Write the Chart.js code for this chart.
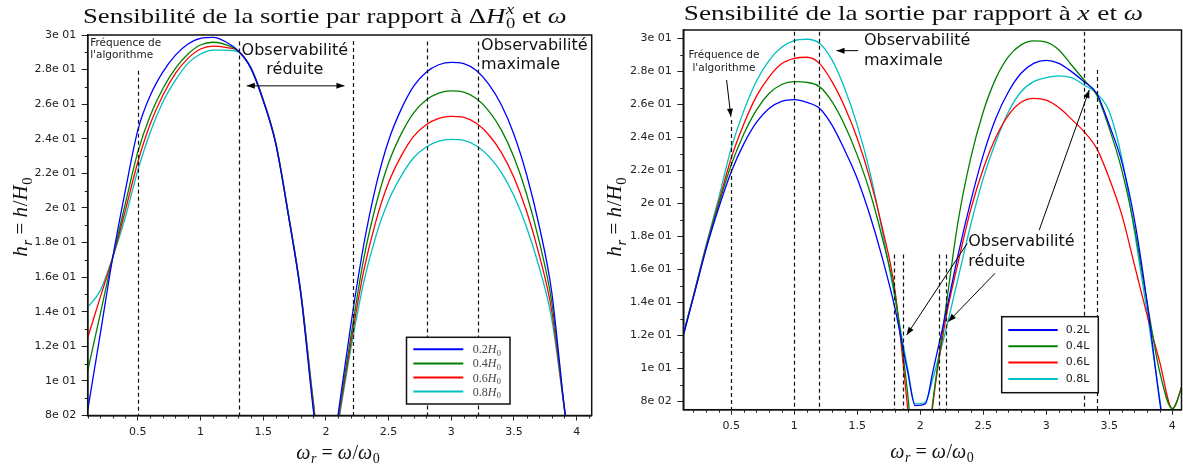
<!DOCTYPE html>
<html><head><meta charset="utf-8">
<script src="https://cdn.jsdelivr.net/npm/chart.js@4.4.1/dist/chart.umd.min.js"></script>
<style>
html,body{margin:0;padding:0;background:#fff;}
#wrap{position:relative;width:1183px;height:468px;overflow:hidden;background:#fff;}
canvas{position:absolute;top:0;}
#c1{left:0;width:596px;height:468px;}
#c2{left:596px;width:587px;height:468px;}
</style></head><body>
<div id="wrap"><canvas id="c1" width="596" height="468"></canvas><canvas id="c2" width="587" height="468"></canvas></div>
<script>
// ---------- tick values / labels ----------
const xTickValues = [0.5, 1, 1.5, 2, 2.5, 3, 3.5, 4];
const xTickLabels = ['0.5', '1', '1.5', '2', '2.5', '3', '3.5', '4'];
const yTickValues = [0.08, 0.10, 0.12, 0.14, 0.16, 0.18, 0.20, 0.22, 0.24, 0.26, 0.28, 0.30];
const yTickLabels = ['8e 02', '1e 01', '1.2e 01', '1.4e 01', '1.6e 01', '1.8e 01', '2e 01', '2.2e 01', '2.4e 01', '2.6e 01', '2.8e 01', '3e 01'];

// ---------- left panel data (ΔH0) ----------
const leftX = [0.1,0.2,0.3,0.4,0.5,0.6,0.7,0.8,0.9,1.0,1.1,1.2,1.3,1.4,1.5,1.6,1.7,1.8,1.9,2.0,
               2.1,2.2,2.3,2.4,2.5,2.6,2.7,2.8,2.9,3.0,3.1,3.2,3.3,3.4,3.5,3.6,3.7,3.8,3.9,4.0,4.1];
const leftH02 = [0.083,0.127,0.1715,0.210,0.245,0.2652,0.2787,0.2884,0.2948,0.2981,0.2986,0.2961,0.2909,0.2810,0.2620,0.2370,0.1960,0.1500,0.0830,0.0300,
                 0.0820,0.1330,0.1780,0.2130,0.2390,0.2570,0.2705,0.2785,0.2828,0.2842,0.2835,0.2795,0.2715,0.2595,0.2425,0.2195,0.1900,0.1520,0.0860,0.0300,-0.0200];
const leftH04 = [0.1058,0.1386,0.1715,0.2024,0.2324,0.2536,0.2691,0.2807,0.2890,0.2942,0.2958,0.2945,0.2908,0.2810,0.2622,0.2372,0.1963,0.1505,0.0850,0.0300,
                 0.0800,0.1260,0.1700,0.2020,0.2260,0.2427,0.2550,0.2624,0.2664,0.2677,0.2670,0.2633,0.2560,0.2450,0.2293,0.2082,0.1811,0.1462,0.0855,0.0300,-0.0200];
const leftH06 = [0.125,0.1483,0.1715,0.1985,0.2266,0.2488,0.2652,0.2778,0.2865,0.2919,0.2936,0.2928,0.2907,0.2812,0.2625,0.2375,0.1966,0.1510,0.0870,0.0300,
                 0.0780,0.1224,0.1630,0.1927,0.2147,0.2300,0.2414,0.2481,0.2518,0.2530,0.2524,0.2490,0.2422,0.2320,0.2176,0.1982,0.1732,0.1410,0.0850,0.0300,-0.0200];
const leftH08 = [0.1425,0.1522,0.1715,0.1946,0.2217,0.2439,0.2613,0.2739,0.2836,0.2890,0.2913,0.2913,0.2903,0.2814,0.2628,0.2380,0.1972,0.1518,0.0880,0.0300,
                 0.0760,0.1190,0.1566,0.1840,0.2043,0.2184,0.2290,0.2352,0.2386,0.2397,0.2391,0.2360,0.2298,0.2204,0.2070,0.1890,0.1660,0.1363,0.0847,0.0300,-0.0200];
const leftCoefs = ['0.2', '0.4', '0.6', '0.8'];

// ---------- right panel data (x) ----------
const rightX = [0.1,0.2,0.3,0.4,0.5,0.6,0.7,0.8,0.9,1.0,1.1,1.2,1.3,1.4,1.5,1.6,1.7,1.8,1.9,1.96,2.04,
                2.1,2.2,2.3,2.4,2.5,2.6,2.7,2.8,2.9,3.0,3.1,3.2,3.3,3.4,3.5,3.6,3.7,3.8,3.9,4.0,4.1];
const rightL02 = [0.114,0.143,0.172,0.197,0.219,0.236,0.249,0.2575,0.2618,0.2628,0.2612,0.2576,0.2474,0.2323,0.2151,0.1929,0.1667,0.1363,0.0980,0.0775,0.0785,
                  0.0980,0.1323,0.1687,0.2010,0.2292,0.2515,0.2676,0.2788,0.2848,0.2866,0.2848,0.2798,0.2737,0.2667,0.2474,0.2250,0.1900,0.1400,0.0800,0.0300,-0.0200];
const rightL04 = [0.115,0.1435,0.1728,0.1990,0.2232,0.2420,0.2565,0.2665,0.2720,0.2737,0.2733,0.2707,0.2616,0.2474,0.2292,0.2070,0.1787,0.1444,0.0850,0.0400,0.0400,
                  0.0800,0.1350,0.1889,0.2272,0.2555,0.2757,0.2889,0.2960,0.2984,0.2976,0.2929,0.2838,0.2747,0.2656,0.2454,0.2200,0.1850,0.1400,0.0980,0.0757,0.0950];
const rightL06 = [0.1145,0.1437,0.1735,0.2005,0.2273,0.2480,0.2648,0.2765,0.2845,0.2878,0.2885,0.2848,0.2737,0.2585,0.2394,0.2151,0.1848,0.1470,0.0760,0.0300,0.0300,
                  0.0780,0.1290,0.1640,0.1960,0.2210,0.2400,0.2535,0.2612,0.2636,0.2625,0.2580,0.2510,0.2434,0.2333,0.2151,0.1929,0.1626,0.1323,0.1040,0.0757,0.0950];
const rightL08 = [0.115,0.144,0.1745,0.2030,0.2333,0.2560,0.2740,0.2865,0.2945,0.2985,0.2994,0.2970,0.2869,0.2697,0.2474,0.2191,0.1828,0.1424,0.1000,0.0785,0.0795,
                  0.0939,0.1222,0.1545,0.1868,0.2151,0.2373,0.2555,0.2676,0.2737,0.2761,0.2772,0.2761,0.2717,0.2666,0.2555,0.2272,0.1828,0.1343,0.0818,0.0300,-0.0200];
const rightLabels = ['0.2L', '0.4L', '0.6L', '0.8L'];

// ---------- annotation values (data units) ----------
const leftDashX   = [0.5, 1.305, 2.22, 2.81, 3.215];
const leftDashTop = [0.2793, 0.2962, 0.2965, 0.2962, 0.2962];
const rightDashX   = [0.5, 1.0, 1.2, 1.795, 1.865, 2.145, 2.205, 3.30, 3.40];
const rightDashTop = [0.2505, 0.304, 0.304, 0.169, 0.169, 0.169, 0.169, 0.304, 0.2808];

const leftNotes = [
  {t:'Fréquence de', x:0.12, y:0.2955, size:10.5, align:'left'},
  {t:"l'algorithme", x:0.12, y:0.2882, size:10.5, align:'left'},
  {t:'Observabilité', x:1.752, y:0.2909, size:16, align:'center'},
  {t:'réduite', x:1.752, y:0.2797, size:16, align:'center'},
  {t:'Observabilité', x:3.238, y:0.2938, size:16, align:'left'},
  {t:'maximale', x:3.238, y:0.2826, size:16, align:'left'}
];
const rightNotes = [
  {t:'Fréquence de', x:0.442, y:0.2895, size:10.5, align:'center'},
  {t:"l'algorithme", x:0.442, y:0.2818, size:10.5, align:'center'},
  {t:'Observabilité', x:1.553, y:0.2984, size:16, align:'left'},
  {t:'maximale', x:1.553, y:0.2862, size:16, align:'left'},
  {t:'Observabilité', x:2.381, y:0.1764, size:16, align:'left'},
  {t:'réduite', x:2.381, y:0.1643, size:16, align:'left'}
];
const leftArrows = [
  {x1:1.369, y1:0.2706, x2:2.148, y2:0.2706, both:true}
];
const rightArrows = [
  {x1:0.4635, y1:0.2747, x2:0.4976, y2:0.2525},
  {x1:1.508, y1:0.2925, x2:1.336, y2:0.2925},
  {x1:2.944, y1:0.1838, x2:3.341, y2:0.2687},
  {x1:2.373, y1:0.1758, x2:1.892, y2:0.1202},
  {x1:2.593, y1:0.1576, x2:2.222, y2:0.1283}
];

const seriesColors = ['#0000ff', '#008000', '#ff0000', '#00bfbf'];

// ---------- rich text helpers ----------
const SERIF = '"Liberation Serif", "DejaVu Serif", serif';
const SANS = '"DejaVu Sans", sans-serif';
function fontFor(s, size) { return (s.it ? 'italic ' : '') + size + 'px ' + SERIF; }
function segWidth(ctx, s, size) {
  if (s.stack) {
    return Math.max.apply(null, s.stack.map(q => { ctx.font = fontFor(q, size * 0.7); return ctx.measureText(q.t).width; }));
  }
  const sz = (s.sub || s.sup) ? size * 0.7 : size;
  ctx.font = fontFor(s, sz);
  return ctx.measureText(s.t).width + (s.it && !s.sub && !s.sup ? size * 0.03 : 0);
}
function richWidth(ctx, segs, size) { return segs.reduce((w, s) => w + segWidth(ctx, s, size), 0); }
function drawRich(ctx, segs, x, y, size, align, targetW, color) {
  const w = richWidth(ctx, segs, size);
  const sx = targetW ? targetW / w : 1;
  ctx.save();
  ctx.translate(x, y);
  ctx.scale(sx, 1);
  ctx.fillStyle = color || '#111';
  ctx.textAlign = 'left';
  ctx.textBaseline = 'alphabetic';
  let cx = align === 'center' ? -w / 2 : 0;
  for (const s of segs) {
    if (s.stack) {
      const [sup, sub] = s.stack;
      ctx.font = fontFor(sup, size * 0.7); ctx.fillText(sup.t, cx, -0.40 * size);
      ctx.font = fontFor(sub, size * 0.7); ctx.fillText(sub.t, cx, 0.24 * size);
    } else {
      const sz = (s.sub || s.sup) ? size * 0.7 : size;
      const dy = s.sub ? 0.22 * size : (s.sup ? -0.40 * size : 0);
      ctx.font = fontFor(s, sz);
      ctx.fillText(s.t, cx, dy);
    }
    cx += segWidth(ctx, s, size);
  }
  ctx.restore();
}
function arrowHead(ctx, x, y, ang) {
  const L = 8, W = 3;
  ctx.beginPath();
  ctx.moveTo(x, y);
  ctx.lineTo(x - L * Math.cos(ang) + W * Math.sin(ang), y - L * Math.sin(ang) - W * Math.cos(ang));
  ctx.lineTo(x - L * Math.cos(ang) - W * Math.sin(ang), y - L * Math.sin(ang) + W * Math.cos(ang));
  ctx.closePath();
  ctx.fill();
}

const leftTitle = [{t:'Sensibilité de la sortie par rapport à '}, {t:'Δ'}, {t:'H', it:true}, {stack:[{t:'x', it:true}, {t:'0'}]}, {t:' et '}, {t:'ω', it:true}];
const rightTitle = [{t:'Sensibilité de la sortie par rapport à '}, {t:'x', it:true}, {t:' et '}, {t:'ω', it:true}];
const yTitle = [{t:'h', it:true}, {t:'r', it:true, sub:true}, {t:' = '}, {t:'h', it:true}, {t:'/'}, {t:'H', it:true}, {t:'0', sub:true}];
const xTitle = [{t:'ω', it:true}, {t:'r', it:true, sub:true}, {t:' = '}, {t:'ω', it:true}, {t:'/'}, {t:'ω', it:true}, {t:'0', sub:true}];

function decoPlugin(p) {
  return {
    id: 'deco' + p.id,
    afterDatasetsDraw(chart) {
      const ctx = chart.ctx, a = chart.chartArea, xs = chart.scales.x, ys = chart.scales.y;
      ctx.save();
      // dashed lines
      ctx.strokeStyle = '#111'; ctx.lineWidth = 1.2; ctx.setLineDash([4, 3]);
      p.dashX.forEach((v, i) => {
        const px = Math.round(xs.getPixelForValue(v)) + 0.5;
        ctx.beginPath();
        ctx.moveTo(px, ys.getPixelForValue(p.dashTop[i]));
        ctx.lineTo(px, a.bottom);
        ctx.stroke();
      });
      ctx.setLineDash([]);
      // arrows
      ctx.strokeStyle = '#000'; ctx.fillStyle = '#000'; ctx.lineWidth = 1;
      p.arrows.forEach(r => {
        const x1 = xs.getPixelForValue(r.x1), y1 = ys.getPixelForValue(r.y1);
        const x2 = xs.getPixelForValue(r.x2), y2 = ys.getPixelForValue(r.y2);
        const ang = Math.atan2(y2 - y1, x2 - x1);
        ctx.beginPath(); ctx.moveTo(x1, y1); ctx.lineTo(x2, y2); ctx.stroke();
        arrowHead(ctx, x2, y2, ang);
        if (r.both) arrowHead(ctx, x1, y1, ang + Math.PI);
      });
      // notes
      p.notes.forEach(n => {
        ctx.font = n.size + 'px ' + SANS;
        ctx.fillStyle = n.size < 12 ? '#222' : '#111';
        ctx.textAlign = n.align; ctx.textBaseline = 'middle';
        ctx.fillText(n.t, xs.getPixelForValue(n.x), ys.getPixelForValue(n.y));
      });
      // legend
      const L = p.legend;
      const bx = a.right - L.offRight - L.w, by = a.bottom - L.offBottom - L.h;
      ctx.fillStyle = '#fff'; ctx.fillRect(bx, by, L.w, L.h);
      ctx.strokeStyle = '#111'; ctx.lineWidth = 1.5; ctx.strokeRect(bx, by, L.w, L.h);
      chart.data.datasets.forEach((ds, i) => {
        const y = by + L.first + i * L.step;
        ctx.strokeStyle = ds.borderColor; ctx.lineWidth = 2;
        ctx.beginPath(); ctx.moveTo(bx + L.lx1, y); ctx.lineTo(bx + L.lx2, y); ctx.stroke();
        if (p.mathLegend) {
          drawRich(ctx, [{t:p.coefs[i]}, {t:'H', it:true}, {t:'0', sub:true}], bx + L.tx, y + 4, 12, 'left', null, '#444');
        } else {
          ctx.fillStyle = '#222'; ctx.font = '11px ' + SANS; ctx.textAlign = 'left'; ctx.textBaseline = 'middle';
          ctx.fillText(ds.label, bx + L.tx, y);
        }
      });
      // frame
      ctx.strokeStyle = '#111'; ctx.lineWidth = 1.5;
      ctx.strokeRect(a.left, a.top, a.right - a.left, a.bottom - a.top);
      // minor ticks
      ctx.lineWidth = 1; ctx.strokeStyle = '#222';
      for (let i = Math.ceil(xs.min * 10); i <= Math.floor(xs.max * 10); i++) {
        if (i % 5 === 0) continue;
        const px = Math.round(xs.getPixelForValue(i / 10)) + 0.5;
        ctx.beginPath(); ctx.moveTo(px, a.bottom); ctx.lineTo(px, a.bottom + 3); ctx.stroke();
      }
      for (let i = Math.ceil(ys.min * 100); i <= Math.floor(ys.max * 100); i++) {
        if (i % 2 === 0) continue;
        const py = Math.round(ys.getPixelForValue(i / 100)) + 0.5;
        ctx.beginPath(); ctx.moveTo(a.left - 3, py); ctx.lineTo(a.left, py); ctx.stroke();
      }
      ctx.restore();
    },
    afterDraw(chart) {
      const ctx = chart.ctx;
      drawRich(ctx, p.title, p.titleX, p.titleY, 22, 'left', p.titleW, '#111');
      drawRich(ctx, xTitle, p.xtX, p.xtY, 20, 'center', null, '#111');
      ctx.save();
      ctx.translate(p.ytX, p.ytY);
      ctx.rotate(-Math.PI / 2);
      drawRich(ctx, yTitle, 0, 7, 21, 'center', null, '#111');
      ctx.restore();
    }
  };
}

function buildChart(canvas, p) {
  const datasets = p.series.map((ys, i) => ({
    label: p.labels[i],
    data: p.xs.map((x, j) => ({x: x, y: ys[j]})),
    borderColor: seriesColors[i],
    backgroundColor: seriesColors[i],
    borderWidth: 1.3,
    pointRadius: 0,
    fill: false,
    cubicInterpolationMode: 'monotone',
    clip: 0
  }));
  return new Chart(canvas, {
    type: 'line',
    data: {datasets: datasets},
    options: {
      responsive: false, animation: false, devicePixelRatio: 1,
      layout: {padding: p.padding},
      plugins: {legend: {display: false}, tooltip: {enabled: false}, title: {display: false}},
      scales: {
        x: {
          type: 'linear', min: p.xMin, max: p.xMax,
          afterBuildTicks: s => { s.ticks = xTickValues.map(v => ({value: v})); },
          afterFit: s => { s.height = p.xAxisH; },
          ticks: {autoSkip: false, maxRotation: 0, padding: 5, color: '#222',
                  font: {family: 'DejaVu Sans', size: 11},
                  callback: (v, i) => xTickLabels[i]},
          grid: {drawOnChartArea: false, drawTicks: true, tickLength: 5, color: '#222', lineWidth: 1},
          border: {display: true, color: '#111', width: 1.5}
        },
        y: {
          type: 'linear', min: p.yMin, max: p.yMax,
          afterBuildTicks: s => { s.ticks = yTickValues.map(v => ({value: v})); },
          afterFit: s => { s.width = p.yAxisW; },
          ticks: {autoSkip: false, padding: 5.5, color: '#222',
                  font: {family: 'DejaVu Sans', size: 11},
                  callback: (v, i) => yTickLabels[i]},
          grid: {drawOnChartArea: false, drawTicks: true, tickLength: 6, color: '#222', lineWidth: 1},
          border: {display: true, color: '#111', width: 1.5}
        }
      }
    },
    plugins: [decoPlugin(p)]
  });
}

buildChart(document.getElementById('c1'), {
  id: 'L', xs: leftX, series: [leftH02, leftH04, leftH06, leftH08],
  labels: leftCoefs.map(c => c + 'H₀'), coefs: leftCoefs, mathLegend: true,
  xMin: 0.1, xMax: 4.12, yMin: 0.08, yMax: 0.30,
  padding: {left: 0, right: 4.3, top: 35, bottom: 0}, yAxisW: 87.7, xAxisH: 52.5,
  dashX: leftDashX, dashTop: leftDashTop, notes: leftNotes, arrows: leftArrows,
  legend: {w: 103.5, h: 66.7, offRight: 81.7, offBottom: 11.5, first: 12, step: 14.1, lx1: 6.8, lx2: 56.8, tx: 66.2},
  title: leftTitle, titleX: 83, titleY: 22.5, titleW: 484.5,
  xtX: 338, xtY: 459, ytX: 20, ytY: 217
});
buildChart(document.getElementById('c2'), {
  id: 'R', xs: rightX, series: [rightL02, rightL04, rightL06, rightL08],
  labels: rightLabels, mathLegend: false,
  xMin: 0.12, xMax: 4.073, yMin: 0.075, yMax: 0.305,
  padding: {left: 0, right: 1.5, top: 30, bottom: 0}, yAxisW: 87.3, xAxisH: 58.3,
  dashX: rightDashX, dashTop: rightDashTop, notes: rightNotes, arrows: rightArrows,
  legend: {w: 96.6, h: 76, offRight: 83.2, offBottom: 17, first: 13.3, step: 16.3, lx1: 6.6, lx2: 56, tx: 64},
  title: rightTitle, titleX: 87.8, titleY: 19.5, titleW: 460,
  xtX: 336, xtY: 458, ytX: 18, ytY: 217
});
</script>
</body></html>
